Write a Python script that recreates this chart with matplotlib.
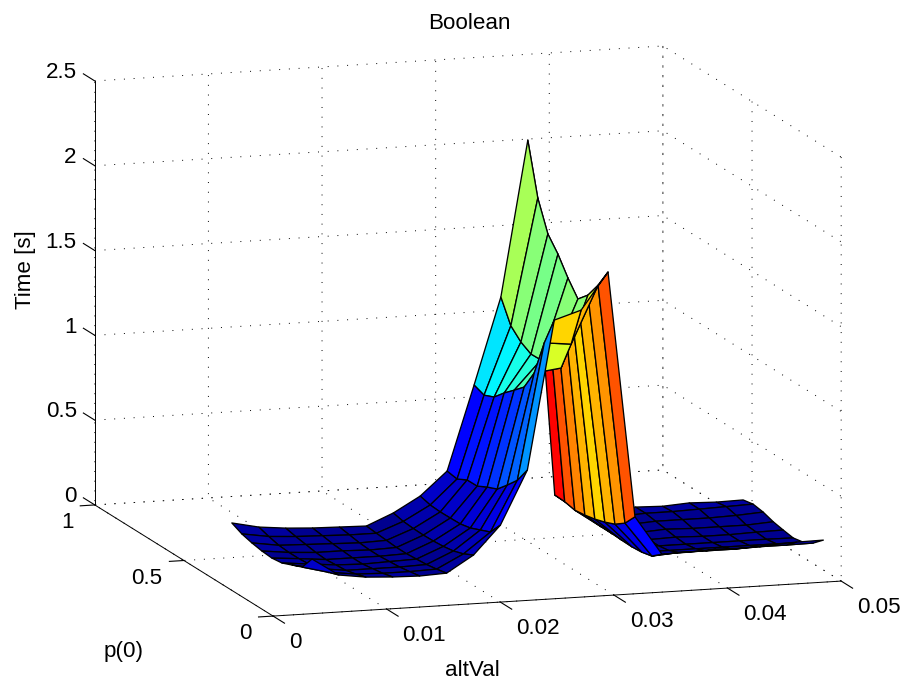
import numpy as np
import matplotlib
matplotlib.use('Agg')
import matplotlib.pyplot as plt
from matplotlib.colors import LinearSegmentedColormap
from matplotlib.transforms import Affine2D
from mpl_toolkits.mplot3d import Axes3D  # noqa

plt.rcParams['font.family'] = ['Liberation Sans', 'DejaVu Sans']
FS = 16.1

alt_val = [0.005, 0.00737, 0.00974, 0.0121, 0.01447, 0.01684, 0.01921, 0.02158, 0.02395, 0.02632,
           0.02868, 0.03105, 0.03342, 0.03579, 0.03816, 0.04053, 0.0429, 0.04526, 0.04763, 0.05]
p0 = [0.1, 0.156, 0.2125, 0.269, 0.325, 0.381, 0.4375, 0.494, 0.55]

# time per altVal row, columns follow p0 ascending
time_s = [
    [.250, .166, .141, .116, .108, .113, .124, .140, .168],
    [.146, .125, .110, .100, .095, .095, .100, .115, .134],
    [.124, .105, .090, .085, .080, .085, .095, .105, .118],
    [.115, .100, .090, .080, .080, .085, .090, .100, .109],
    [.111, .100, .090, .085, .080, .080, .085, .095, .105],
    [.118, .105, .095, .090, .085, .085, .090, .095, .101],
    [.215, .185, .165, .155, .150, .148, .150, .155, .168],
    [.382, .304, .279, .254, .241, .239, .238, .242, .258],
    [.697, .600, .535, .474, .449, .418, .417, .386, .396],
    [1.571, 1.400, 1.185, 1.065, 1.010, .957, .896, .870, .893],
    [1.620, 1.383, 1.205, 1.200, 1.179, 1.177, 1.211, 1.270, 1.403],
    [1.835, 1.720, 1.625, 1.565, 1.652, 1.756, 1.838, 2.013, 2.318],
    [.382, .308, .265, .240, .221, .208, .200, .213, .216],
    [.152, .104, .090, .085, .087, .090, .090, .095, .100],
    [.154, .115, .090, .080, .080, .085, .095, .105, .107],
    [.162, .115, .090, .080, .085, .095, .105, .115, .115],
    [.158, .115, .090, .080, .080, .090, .105, .115, .110],
    [.166, .120, .090, .080, .080, .090, .105, .120, .120],
    [.174, .120, .090, .080, .085, .090, .110, .125, .115],
    [.176, .122, .090, .078, .088, .100, .120, .130, .118],
]

x_ticks = [0, 0.01, 0.02, 0.03, 0.04, 0.05]
x_ticklabels = ['0', '0.01', '0.02', '0.03', '0.04', '0.05']
y_ticks = [0, 0.5, 1]
y_ticklabels = ['0', '0.5', '1']
z_ticks = [0, 0.5, 1, 1.5, 2, 2.5]
z_ticklabels = ['0', '0.5', '1', '1.5', '2', '2.5']

matlab_jet = LinearSegmentedColormap('matlab_jet', {
    'red': [(0, 0, 0), (.375, 0, 0), (.625, 1, 1), (.875, 1, 1), (1, .5, .5)],
    'green': [(0, 0, 0), (.125, 0, 0), (.375, 1, 1), (.625, 1, 1), (.875, 0, 0), (1, 0, 0)],
    'blue': [(0, .5625, .5625), (.125, 1, 1), (.375, 1, 1), (.625, 0, 0), (1, 0, 0)],
}, N=64)

W, H = 907, 686
fig = plt.figure(figsize=(W / 100, H / 100), dpi=100, facecolor='white')
L = 680
ax = fig.add_axes([118.8 / W, 5.8 / H, L / W, L / H], projection='3d', proj_type='ortho')
ax.set_box_aspect((595, 594, 432), zoom=1.3506)
ax.view_init(elev=11.3, azim=-107.45)
ax.patch.set_alpha(0)
ax.computed_zorder = False

P, A = np.meshgrid(p0, alt_val)   # rows follow altVal
Z = np.array(time_s)
colors = matlab_jet(plt.Normalize(Z.min(), Z.max())(Z))

# three sheets of the same surface so the steep front strip hides what lies behind it
for first, last, order in ((9, 20, 3), (0, 9, 4), (8, 10, 5)):
    surf = ax.plot_surface(A[first:last], P[first:last], Z[first:last],
                           facecolors=colors[first:last], rstride=1, cstride=1, shade=False,
                           edgecolor='k', linewidth=0.95, antialiased=True, zorder=order)
    surf.set_clip_on(False)

ax.set_xlim(0, 0.05, view_margin=0)
ax.set_ylim(0, 1, view_margin=0)
ax.set_zlim(0, 2.5, view_margin=0)
ax.set_xticks(x_ticks, x_ticklabels)
ax.set_yticks(y_ticks, y_ticklabels)
ax.set_zticks(z_ticks, z_ticklabels)
ax.zaxis._get_tickdir = lambda *a: 1

for axis, tin, tout in ((ax.xaxis, 0.8, 0), (ax.yaxis, 0.32, 0), (ax.zaxis, 0, 0.8)):
    axis.pane.set_visible(False)
    axis.line.set_color('k')
    axis.line.set_linewidth(0.7)
    axis._axinfo['tick'].update(inward_factor=tin, outward_factor=tout,
                                linewidth={True: 0.8, False: 0.5}, color='k')
    axis._axinfo['grid'].update(color='k', linewidth=0.7, linestyle=(0, (1, 9)))
ax.grid(True)

ax.tick_params(axis='x', labelsize=FS, pad=6)
ax.tick_params(axis='y', labelsize=FS, pad=6)
ax.tick_params(axis='z', labelsize=FS, pad=6)


def style_ticklabels(axis, ha, va, dx, dy):
    for t in axis.get_major_ticks():
        lab = t.label1
        lab.set_ha(ha)
        lab.set_va(va)
        lab.get_transform = lambda: ax.transData + Affine2D().translate(dx, dy)


style_ticklabels(ax.xaxis, 'left', 'top', 6, 13)
style_ticklabels(ax.yaxis, 'right', 'top', 10, 18)
style_ticklabels(ax.zaxis, 'right', 'center', 23, 4)

ax.set_title('Boolean', fontsize=FS, x=(469 - 118.8) / L, y=(662 - 5.8) / L / 0.92, va='center', pad=0)


def pin_label(axis, text, px, py, rotation=0):
    axis.set_rotate_label(False)
    axis.set_label_text(text, fontsize=FS)
    lab = axis.label
    lab.set_rotation(rotation)
    lab.set_ha('center')
    lab.set_va('center')
    lab.set_position((px / W, 1 - py / H))
    lab.get_transform = lambda: fig.transFigure
    for name in ('set_position', 'set_ha', 'set_va', 'set_rotation', 'set_rotation_mode'):
        setattr(lab, name, lambda *a, **k: None)


pin_label(ax.xaxis, 'altVal', 472, 671)
pin_label(ax.yaxis, 'p(0)', 124, 652)
pin_label(ax.zaxis, 'Time [s]', 25, 270, rotation=90)

fig.savefig('out.png', dpi=100)
